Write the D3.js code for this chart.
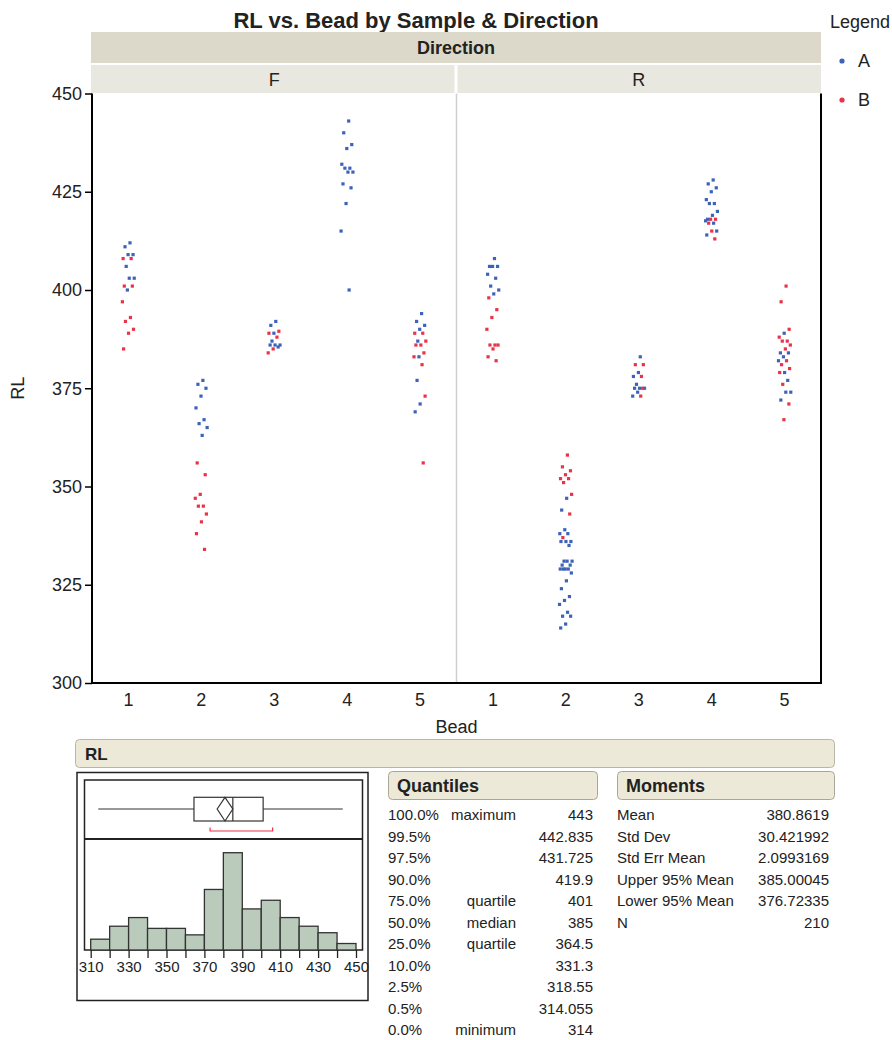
<!DOCTYPE html>
<html><head><meta charset="utf-8">
<script src="https://cdn.jsdelivr.net/npm/d3@7"></script>
<style>
body{margin:0;background:#fff;}
text{font-family:"Liberation Sans", Arial, Helvetica, sans-serif;fill:#222;}
</style></head><body>
<svg id="chart" width="892" height="1040"></svg>
<script>
// ---- data ----
const directions = ["F", "R"];
const beads = ["1", "2", "3", "4", "5"];
const samples = ["A", "B"];

// RL readings, one inner list per bead (1..5)
const rlF_A = [
  [412, 411, 409, 409, 406, 403, 403, 400],
  [377, 376, 375, 373, 370, 367, 366, 365, 363],
  [392, 391, 389, 387, 386, 386, 386, 385.5],
  [443, 440, 437, 436, 432, 431, 431, 430, 430, 427, 426, 422, 415, 400],
  [394, 392, 391, 390, 387, 383, 377, 371, 369]
];
const rlF_B = [
  [408, 408, 401, 401, 397, 393, 392, 390, 389, 385],
  [356, 353, 348, 347, 345, 345, 343, 341, 338, 334],
  [389.5, 389, 388, 385, 384],
  [],
  [389, 389, 387, 386, 386, 384, 383, 381, 373, 356]
];
const rlR_A = [
  [408, 406, 406, 406, 404, 403, 401, 400, 399],
  [347, 344, 339, 338, 338, 336, 336, 336, 335, 331, 331, 331, 330, 330, 329, 329, 329, 329, 328, 326, 324, 322, 321, 320, 318, 317, 317, 315, 314],
  [383, 379, 378, 376, 375, 375, 375, 374, 373],
  [428, 427, 426, 425, 423, 422, 422, 420, 419, 418, 417.6, 417, 415, 414],
  [389, 384, 384, 383, 382, 379, 377, 374, 374, 372]
];
const rlR_B = [
  [398, 395, 393, 390, 386, 386, 386, 385, 383, 382],
  [358, 355, 354, 353, 352, 352, 351, 348, 343, 337],
  [381, 381, 378, 375, 373],
  [418, 418, 417, 415, 413],
  [401, 397, 390, 388, 387, 387, 386, 385, 382, 381, 380, 379, 376, 371, 367]
];
const yTicks = [300, 325, 350, 375, 400, 425, 450];

// distribution of RL
const histBinStarts = [310, 320, 330, 340, 350, 360, 370, 380, 390, 400, 410, 420, 430, 440];
const histCounts = [5, 11, 15, 10, 10, 7, 28, 45, 19, 23, 15, 11, 8, 3];
const histTicks = [310, 320, 330, 340, 350, 360, 370, 380, 390, 400, 410, 420, 430, 440, 450];
const boxFive = [314, 364.5, 385, 401, 443];          // min, q1, median, q3, max
const meanCI = [376.72335, 380.8619, 385.00045];      // lower 95%, mean, upper 95%
const shortestHalf = [373, 406];

const quantilePct = ["100.0%", "99.5%", "97.5%", "90.0%", "75.0%", "50.0%", "25.0%", "10.0%", "2.5%", "0.5%", "0.0%"];
const quantileName = ["maximum", "", "", "", "quartile", "median", "quartile", "", "", "", "minimum"];
const quantileVal = ["443", "442.835", "431.725", "419.9", "401", "385", "364.5", "331.3", "318.55", "314.055", "314"];
const momentName = ["Mean", "Std Dev", "Std Err Mean", "Upper 95% Mean", "Lower 95% Mean", "N"];
const momentVal = ["380.8619", "30.421992", "2.0993169", "385.00045", "376.72335", "210"];

// ---- drawing ----
const svg = d3.select("#chart");
const colors = {A: "#3d63b8", B: "#eb3348"};
const plotL = 92, plotR = 821, plotT = 93.5, plotB = 683;

const dirScale = d3.scaleBand().domain(directions).range([plotL, plotR]);
const beadScale = d3.scaleBand().domain(beads).range([0, dirScale.bandwidth()]);
const y = d3.scaleLinear().domain([300, 450]).range([plotB, plotT]);

// title
svg.append("text").attr("x", 416).attr("y", 28).attr("text-anchor", "middle")
  .style("font-size", "22px").style("font-weight", "bold").text("RL vs. Bead by Sample & Direction");

// strips
svg.append("rect").attr("x", 91).attr("y", 32).attr("width", plotR - 91).attr("height", 31).attr("fill", "#dcd9ca");
svg.append("text").attr("x", (91 + plotR) / 2).attr("y", 54).attr("text-anchor", "middle")
  .style("font-size", "18px").style("font-weight", "bold").text("Direction");
directions.forEach((d, i) => {
  const x0 = dirScale(d) + (i === 0 ? -1 : 1);
  const w = dirScale.bandwidth() - 1;
  svg.append("rect").attr("x", x0).attr("y", 65).attr("width", w).attr("height", 28).attr("fill", "#e8e7e0");
  svg.append("text").attr("x", dirScale(d) + dirScale.bandwidth() / 2).attr("y", 86).attr("text-anchor", "middle")
    .style("font-size", "18px").text(d);
});

// panel divider
svg.append("line").attr("x1", dirScale("R")).attr("x2", dirScale("R")).attr("y1", plotT).attr("y2", plotB)
  .attr("stroke", "#cfcfcf").attr("stroke-width", 1.5);

// points, jittered sideways within each bead
const groups = {F: {A: rlF_A, B: rlF_B}, R: {A: rlR_A, B: rlR_B}};
const pts = [];
directions.forEach(d => beads.forEach((b, bi) => {
  let k = 0;
  const vals = [];
  samples.forEach(s => groups[d][s][bi].forEach(v => vals.push({d, b, s, v})));
  vals.sort((p, q) => q.v - p.v);
  vals.forEach(p => { p.k = k++; pts.push(p); });
}));
const jitter = k => ((((k + 1) * 0.6180339887) % 1) - 0.5) * 13;
svg.append("g").selectAll("rect").data(pts).join("rect")
  .attr("x", p => dirScale(p.d) + beadScale(p.b) + beadScale.bandwidth() / 2 + jitter(p.k) - 1.6)
  .attr("y", p => y(p.v) - 1.6)
  .attr("width", 3.2).attr("height", 3.2)
  .attr("fill", p => colors[p.s]);

// axes
const yAxis = svg.append("g").attr("transform", `translate(${plotL},0)`)
  .call(d3.axisLeft(y).tickValues(yTicks).tickSize(7).tickPadding(3));
yAxis.select(".domain").remove();
yAxis.selectAll("line").attr("stroke", "#000").attr("stroke-width", 1.5);
yAxis.selectAll("text").style("font-size", "18px").attr("fill", "#222");

directions.forEach(d => {
  const g = svg.append("g").attr("transform", `translate(${dirScale(d)},${plotB})`)
    .call(d3.axisBottom(beadScale).tickSize(0).tickPadding(10));
  g.select(".domain").remove();
  g.selectAll("text").style("font-size", "18px").attr("fill", "#222");
});

svg.append("path").attr("d", `M${plotL},${plotT} V${plotB} H${plotR} V${plotT}`)
  .attr("fill", "none").attr("stroke", "#000").attr("stroke-width", 2);

svg.append("text").attr("x", (plotL + plotR) / 2).attr("y", 733).attr("text-anchor", "middle")
  .style("font-size", "18px").text("Bead");
svg.append("text").attr("transform", `translate(24,${(plotT + plotB) / 2}) rotate(-90)`).attr("text-anchor", "middle")
  .style("font-size", "18px").text("RL");

// legend
svg.append("text").attr("x", 830).attr("y", 28).style("font-size", "18px").text("Legend");
samples.forEach((s, i) => {
  svg.append("circle").attr("cx", 842).attr("cy", 61 + i * 39).attr("r", 2.6).attr("fill", colors[s]);
  svg.append("text").attr("x", 858).attr("y", 67 + i * 39).style("font-size", "18px").text(s);
});

// ---- distribution report ----
svg.append("rect").attr("x", 75.5).attr("y", 739.5).attr("width", 759).attr("height", 28).attr("rx", 4)
  .attr("fill", "#ece9d9").attr("stroke", "#b9b6a6");
svg.append("text").attr("x", 85).attr("y", 760).style("font-size", "17px").style("font-weight", "bold").text("RL");

svg.append("rect").attr("x", 77).attr("y", 772.5).attr("width", 291).attr("height", 228)
  .attr("fill", "none").attr("stroke", "#222").attr("stroke-width", 1.5);
svg.append("rect").attr("x", 84.5).attr("y", 780).attr("width", 278).attr("height", 170)
  .attr("fill", "none").attr("stroke", "#222").attr("stroke-width", 1.5);
svg.append("line").attr("x1", 84.5).attr("x2", 362.5).attr("y1", 839).attr("y2", 839)
  .attr("stroke", "#222").attr("stroke-width", 2);

const hx = d3.scaleLinear().domain([310, 450]).range([90.7, 356]);
const hy = d3.scaleLinear().domain([0, 45]).range([950, 852.7]);

svg.append("g").selectAll("rect").data(histBinStarts).join("rect")
  .attr("x", (b) => hx(b)).attr("width", b => hx(b + 10) - hx(b))
  .attr("y", (b, i) => hy(histCounts[i])).attr("height", (b, i) => hy(0) - hy(histCounts[i]))
  .attr("fill", "#bacabb").attr("stroke", "#333").attr("stroke-width", 1.3);

const hAxis = svg.append("g").attr("transform", "translate(0,950)")
  .call(d3.axisBottom(hx).tickValues(histTicks).tickSize(8).tickPadding(3)
    .tickFormat(v => ((v - 310) % 20 === 0 ? v : "")));
hAxis.select(".domain").remove();
hAxis.selectAll("line").attr("stroke", "#222").attr("stroke-width", 1.3);
hAxis.selectAll("text").style("font-size", "15px").attr("fill", "#333");

// outlier box plot
const bTop = 797.3, bBot = 821, bMid = 809;
svg.append("line").attr("x1", hx(boxFive[0])).attr("x2", hx(boxFive[4])).attr("y1", bMid).attr("y2", bMid)
  .attr("stroke", "#333").attr("stroke-width", 1.2);
svg.append("rect").attr("x", hx(boxFive[1])).attr("y", bTop).attr("width", hx(boxFive[3]) - hx(boxFive[1]))
  .attr("height", bBot - bTop).attr("fill", "#fff").attr("stroke", "#333").attr("stroke-width", 1.2);
svg.append("line").attr("x1", hx(boxFive[2])).attr("x2", hx(boxFive[2])).attr("y1", bTop).attr("y2", bBot)
  .attr("stroke", "#333").attr("stroke-width", 1.2);
svg.append("path")
  .attr("d", `M${hx(meanCI[0])},${bMid} L${hx(meanCI[1])},${bTop} L${hx(meanCI[2])},${bMid} L${hx(meanCI[1])},${bBot} Z`)
  .attr("fill", "none").attr("stroke", "#333").attr("stroke-width", 1.2);
svg.append("path")
  .attr("d", `M${hx(shortestHalf[0])},827.5 V831 H${hx(shortestHalf[1])} V827.5`)
  .attr("fill", "none").attr("stroke", colors.B).attr("stroke-width", 1.2);

// report tables
function header(x, w, label) {
  svg.append("rect").attr("x", x + 0.5).attr("y", 771.5).attr("width", w).attr("height", 28).attr("rx", 4)
    .attr("fill", "#ece9d9").attr("stroke", "#a9a697");
  svg.append("text").attr("x", x + 9).attr("y", 792).style("font-size", "18px").style("font-weight", "bold").text(label);
}
header(388, 209, "Quantiles");
header(617, 217, "Moments");

const rowY = i => 820 + i * 21.5;
const fs = "15px";
quantilePct.forEach((p, i) => {
  svg.append("text").attr("x", 388).attr("y", rowY(i)).style("font-size", fs).text(p);
  svg.append("text").attr("x", 516).attr("y", rowY(i)).attr("text-anchor", "end").style("font-size", fs).text(quantileName[i]);
  svg.append("text").attr("x", 593).attr("y", rowY(i)).attr("text-anchor", "end").style("font-size", fs).text(quantileVal[i]);
});
momentName.forEach((m, i) => {
  svg.append("text").attr("x", 617).attr("y", rowY(i)).style("font-size", fs).text(m);
  svg.append("text").attr("x", 829).attr("y", rowY(i)).attr("text-anchor", "end").style("font-size", fs).text(momentVal[i]);
});
</script>
</body></html>
